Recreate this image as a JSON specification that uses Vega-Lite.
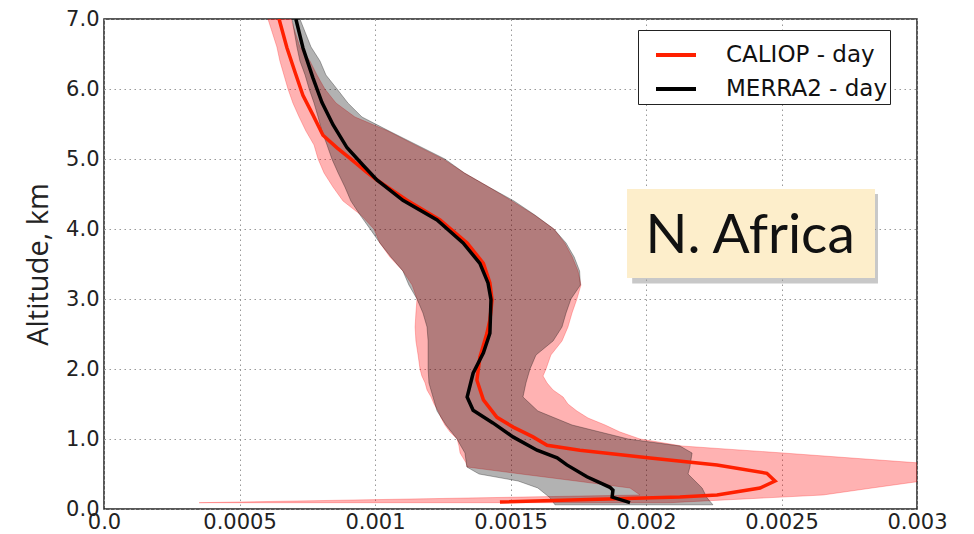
{
  "$schema": "https://vega.github.io/schema/vega-lite/v6.json",
  "width": 813,
  "height": 490,
  "autosize": {"type": "none"},
  "padding": {"left": 104, "top": 19, "right": 57, "bottom": 25},
  "background": "white",
  "config": {
    "view": {"stroke": "#222", "strokeWidth": 1.5},
    "axis": {
      "grid": true, "gridColor": "#999", "gridDash": [1.5, 3.5], "gridWidth": 1,
      "domain": false, "ticks": false,
      "labelFont": "DejaVu Sans", "labelFontSize": 21, "labelColor": "#222"
    }
  },
  "datasets": {
    "caliop_band": [
      {"alt": 7.0, "lo": 0.000605, "hi": 0.000690},
      {"alt": 6.6, "lo": 0.000638, "hi": 0.000723},
      {"alt": 6.4, "lo": 0.000649, "hi": 0.000760},
      {"alt": 6.2, "lo": 0.000664, "hi": 0.000786},
      {"alt": 6.0, "lo": 0.000679, "hi": 0.000815},
      {"alt": 5.8, "lo": 0.000697, "hi": 0.000856},
      {"alt": 5.6, "lo": 0.000720, "hi": 0.000926},
      {"alt": 5.4, "lo": 0.000745, "hi": 0.001048},
      {"alt": 5.2, "lo": 0.000775, "hi": 0.001148},
      {"alt": 5.0, "lo": 0.000790, "hi": 0.001251},
      {"alt": 4.8, "lo": 0.000812, "hi": 0.001330},
      {"alt": 4.6, "lo": 0.000845, "hi": 0.001420},
      {"alt": 4.4, "lo": 0.000882, "hi": 0.001505},
      {"alt": 4.2, "lo": 0.000948, "hi": 0.001588},
      {"alt": 4.0, "lo": 0.000996, "hi": 0.001660},
      {"alt": 3.8, "lo": 0.001018, "hi": 0.001700},
      {"alt": 3.6, "lo": 0.001055, "hi": 0.001728},
      {"alt": 3.4, "lo": 0.001103, "hi": 0.001749},
      {"alt": 3.2, "lo": 0.001137, "hi": 0.001760},
      {"alt": 3.0, "lo": 0.001155, "hi": 0.001745},
      {"alt": 2.8, "lo": 0.001151, "hi": 0.001727},
      {"alt": 2.6, "lo": 0.001148, "hi": 0.001712},
      {"alt": 2.4, "lo": 0.001151, "hi": 0.001690},
      {"alt": 2.2, "lo": 0.001159, "hi": 0.001649},
      {"alt": 2.0, "lo": 0.001166, "hi": 0.001631},
      {"alt": 1.9, "lo": 0.001173, "hi": 0.001620},
      {"alt": 1.8, "lo": 0.001185, "hi": 0.001635},
      {"alt": 1.7, "lo": 0.001192, "hi": 0.001657},
      {"alt": 1.6, "lo": 0.001207, "hi": 0.001694},
      {"alt": 1.5, "lo": 0.001218, "hi": 0.001712},
      {"alt": 1.4, "lo": 0.001233, "hi": 0.001745},
      {"alt": 1.3, "lo": 0.001244, "hi": 0.001786},
      {"alt": 1.2, "lo": 0.001258, "hi": 0.001849},
      {"alt": 1.1, "lo": 0.001277, "hi": 0.001904},
      {"alt": 1.0, "lo": 0.001303, "hi": 0.001978},
      {"alt": 0.9, "lo": 0.001310, "hi": 0.002133},
      {"alt": 0.8, "lo": 0.001314, "hi": 0.002506},
      {"alt": 0.66, "lo": 0.001336, "hi": 0.003000},
      {"alt": 0.6, "lo": 0.001340, "hi": 0.003122},
      {"alt": 0.5, "lo": 0.001539, "hi": 0.003269},
      {"alt": 0.4, "lo": 0.001742, "hi": 0.003019},
      {"alt": 0.3, "lo": 0.001941, "hi": 0.002834},
      {"alt": 0.2, "lo": 0.001978, "hi": 0.002653},
      {"alt": 0.09, "lo": 0.000351, "hi": 0.002089}
    ],
    "merra_band": [
      {"alt": 7.0, "lo": 0.000694, "hi": 0.000723},
      {"alt": 6.6, "lo": 0.000712, "hi": 0.000764},
      {"alt": 6.4, "lo": 0.000723, "hi": 0.000797},
      {"alt": 6.2, "lo": 0.000742, "hi": 0.000819},
      {"alt": 6.0, "lo": 0.000757, "hi": 0.000860},
      {"alt": 5.8, "lo": 0.000775, "hi": 0.000900},
      {"alt": 5.6, "lo": 0.000790, "hi": 0.000952},
      {"alt": 5.4, "lo": 0.000804, "hi": 0.001052},
      {"alt": 5.2, "lo": 0.000823, "hi": 0.001155},
      {"alt": 5.0, "lo": 0.000841, "hi": 0.001258},
      {"alt": 4.8, "lo": 0.000864, "hi": 0.001330},
      {"alt": 4.6, "lo": 0.000889, "hi": 0.001420},
      {"alt": 4.4, "lo": 0.000911, "hi": 0.001513},
      {"alt": 4.2, "lo": 0.000945, "hi": 0.001590},
      {"alt": 4.0, "lo": 0.000982, "hi": 0.001660},
      {"alt": 3.8, "lo": 0.001018, "hi": 0.001705},
      {"alt": 3.6, "lo": 0.001059, "hi": 0.001735},
      {"alt": 3.4, "lo": 0.001103, "hi": 0.001755},
      {"alt": 3.2, "lo": 0.001125, "hi": 0.001758},
      {"alt": 3.0, "lo": 0.001155, "hi": 0.001723},
      {"alt": 2.8, "lo": 0.001177, "hi": 0.001705},
      {"alt": 2.6, "lo": 0.001192, "hi": 0.001690},
      {"alt": 2.4, "lo": 0.001196, "hi": 0.001657},
      {"alt": 2.2, "lo": 0.001196, "hi": 0.001594},
      {"alt": 2.0, "lo": 0.001196, "hi": 0.001572},
      {"alt": 1.8, "lo": 0.001199, "hi": 0.001557},
      {"alt": 1.6, "lo": 0.001214, "hi": 0.001546},
      {"alt": 1.4, "lo": 0.001229, "hi": 0.001601},
      {"alt": 1.2, "lo": 0.001262, "hi": 0.001727},
      {"alt": 1.0, "lo": 0.001303, "hi": 0.001934},
      {"alt": 0.9, "lo": 0.001317, "hi": 0.002125},
      {"alt": 0.8, "lo": 0.001332, "hi": 0.002170},
      {"alt": 0.6, "lo": 0.001339, "hi": 0.002162},
      {"alt": 0.5, "lo": 0.001384, "hi": 0.002155},
      {"alt": 0.4, "lo": 0.001528, "hi": 0.002181},
      {"alt": 0.3, "lo": 0.001601, "hi": 0.002207},
      {"alt": 0.16, "lo": 0.001646, "hi": 0.002225},
      {"alt": 0.06, "lo": 0.001664, "hi": 0.002247}
    ],
    "lines": [
      {"series": "CALIOP - day", "alt": 7.0, "v": 0.000646},
      {"series": "CALIOP - day", "alt": 6.59, "v": 0.000675},
      {"series": "CALIOP - day", "alt": 6.24, "v": 0.000705},
      {"series": "CALIOP - day", "alt": 5.91, "v": 0.000734},
      {"series": "CALIOP - day", "alt": 5.63, "v": 0.000771},
      {"series": "CALIOP - day", "alt": 5.34, "v": 0.000808},
      {"series": "CALIOP - day", "alt": 5.16, "v": 0.000860},
      {"series": "CALIOP - day", "alt": 5.01, "v": 0.000908},
      {"series": "CALIOP - day", "alt": 4.81, "v": 0.000970},
      {"series": "CALIOP - day", "alt": 4.70, "v": 0.001007},
      {"series": "CALIOP - day", "alt": 4.41, "v": 0.001118},
      {"series": "CALIOP - day", "alt": 4.13, "v": 0.001240},
      {"series": "CALIOP - day", "alt": 3.80, "v": 0.001340},
      {"series": "CALIOP - day", "alt": 3.51, "v": 0.001400},
      {"series": "CALIOP - day", "alt": 3.23, "v": 0.001424},
      {"series": "CALIOP - day", "alt": 2.99, "v": 0.001432},
      {"series": "CALIOP - day", "alt": 2.70, "v": 0.001424},
      {"series": "CALIOP - day", "alt": 2.51, "v": 0.001413},
      {"series": "CALIOP - day", "alt": 2.17, "v": 0.001387},
      {"series": "CALIOP - day", "alt": 1.84, "v": 0.001376},
      {"series": "CALIOP - day", "alt": 1.56, "v": 0.001400},
      {"series": "CALIOP - day", "alt": 1.31, "v": 0.001450},
      {"series": "CALIOP - day", "alt": 1.17, "v": 0.001510},
      {"series": "CALIOP - day", "alt": 1.03, "v": 0.001583},
      {"series": "CALIOP - day", "alt": 0.91, "v": 0.001635},
      {"series": "CALIOP - day", "alt": 0.84, "v": 0.001756},
      {"series": "CALIOP - day", "alt": 0.73, "v": 0.002015},
      {"series": "CALIOP - day", "alt": 0.63, "v": 0.002262},
      {"series": "CALIOP - day", "alt": 0.51, "v": 0.002446},
      {"series": "CALIOP - day", "alt": 0.40, "v": 0.002476},
      {"series": "CALIOP - day", "alt": 0.30, "v": 0.002421},
      {"series": "CALIOP - day", "alt": 0.20, "v": 0.002262},
      {"series": "CALIOP - day", "alt": 0.17, "v": 0.002125},
      {"series": "CALIOP - day", "alt": 0.10, "v": 0.001461},
      {"series": "MERRA2 - day", "alt": 7.0, "v": 0.000708},
      {"series": "MERRA2 - day", "alt": 6.59, "v": 0.000734},
      {"series": "MERRA2 - day", "alt": 6.16, "v": 0.000771},
      {"series": "MERRA2 - day", "alt": 5.81, "v": 0.000804},
      {"series": "MERRA2 - day", "alt": 5.49, "v": 0.000845},
      {"series": "MERRA2 - day", "alt": 5.16, "v": 0.000897},
      {"series": "MERRA2 - day", "alt": 4.91, "v": 0.000956},
      {"series": "MERRA2 - day", "alt": 4.70, "v": 0.001007},
      {"series": "MERRA2 - day", "alt": 4.41, "v": 0.001103},
      {"series": "MERRA2 - day", "alt": 4.13, "v": 0.001229},
      {"series": "MERRA2 - day", "alt": 3.80, "v": 0.001325},
      {"series": "MERRA2 - day", "alt": 3.51, "v": 0.001387},
      {"series": "MERRA2 - day", "alt": 3.23, "v": 0.001417},
      {"series": "MERRA2 - day", "alt": 2.99, "v": 0.001428},
      {"series": "MERRA2 - day", "alt": 2.51, "v": 0.001424},
      {"series": "MERRA2 - day", "alt": 2.23, "v": 0.001400},
      {"series": "MERRA2 - day", "alt": 1.94, "v": 0.001362},
      {"series": "MERRA2 - day", "alt": 1.60, "v": 0.001340},
      {"series": "MERRA2 - day", "alt": 1.41, "v": 0.001362},
      {"series": "MERRA2 - day", "alt": 1.23, "v": 0.001435},
      {"series": "MERRA2 - day", "alt": 1.03, "v": 0.001509},
      {"series": "MERRA2 - day", "alt": 0.84, "v": 0.001598},
      {"series": "MERRA2 - day", "alt": 0.73, "v": 0.001672},
      {"series": "MERRA2 - day", "alt": 0.63, "v": 0.001708},
      {"series": "MERRA2 - day", "alt": 0.46, "v": 0.001782},
      {"series": "MERRA2 - day", "alt": 0.31, "v": 0.001867},
      {"series": "MERRA2 - day", "alt": 0.27, "v": 0.001878},
      {"series": "MERRA2 - day", "alt": 0.17, "v": 0.001875},
      {"series": "MERRA2 - day", "alt": 0.09, "v": 0.001941}
    ]
  },
  "layer": [
    {
      "data": {"name": "caliop_band"},
      "mark": {"type": "area", "orient": "horizontal", "fill": "#ff0000", "fillOpacity": 0.3, "stroke": "#ff0000", "strokeOpacity": 0.25, "strokeWidth": 1, "clip": true},
      "encoding": {
        "y": {
          "field": "alt", "type": "quantitative",
          "scale": {"domain": [0, 7], "nice": false, "zero": false},
          "axis": {
            "values": [0, 1, 2, 3, 4, 5, 6, 7], "format": ".1f", "labelPadding": 5,
            "title": "Altitude, km", "titleFont": "Open Sans", "titleFontSize": 29,
            "titleFontWeight": "normal", "titleColor": "#222", "titlePadding": 12
          }
        },
        "x": {
          "field": "lo", "type": "quantitative",
          "scale": {"domain": [0, 0.003], "nice": false, "zero": false},
          "axis": {
            "values": [0, 0.0005, 0.001, 0.0015, 0.002, 0.0025, 0.003],
            "labelExpr": "datum.value == 0 ? '0.0' : format(datum.value, '~g')",
            "labelPadding": 2, "labelFlush": false, "title": null
          }
        },
        "x2": {"field": "hi"}
      }
    },
    {
      "data": {"name": "merra_band"},
      "mark": {"type": "area", "orient": "horizontal", "fill": "#000000", "fillOpacity": 0.3, "stroke": "#000000", "strokeOpacity": 0.3, "strokeWidth": 1, "clip": true},
      "encoding": {
        "y": {"field": "alt", "type": "quantitative"},
        "x": {"field": "lo", "type": "quantitative"},
        "x2": {"field": "hi"}
      }
    },
    {
      "data": {"name": "lines"},
      "mark": {"type": "line", "strokeWidth": 3.5, "clip": true},
      "encoding": {
        "y": {"field": "alt", "type": "quantitative"},
        "x": {"field": "v", "type": "quantitative"},
        "order": {"field": "alt", "sort": "descending"},
        "color": {
          "field": "series", "type": "nominal",
          "scale": {"domain": ["CALIOP - day", "MERRA2 - day"], "range": ["#ff2000", "#000000"]},
          "legend": {
            "title": null, "orient": "none", "legendX": 534, "legendY": 11,
            "symbolType": "stroke", "symbolSize": 1600, "symbolStrokeWidth": 4, "symbolOffset": 13,
            "labelFont": "DejaVu Sans", "labelFontSize": 23, "labelColor": "#111", "labelLimit": 400,
            "labelOffset": 28, "rowPadding": -8, "padding": 3,
            "strokeColor": "#222", "fillColor": "#ffffff"
          }
        }
      }
    },
    {
      "data": {"values": [{}]},
      "mark": {"type": "rect", "fill": "#9a9a9a", "opacity": 0.55},
      "encoding": {
        "x": {"datum": 0.001949}, "x2": {"datum": 0.002856},
        "y": {"datum": 4.50}, "y2": {"datum": 3.22}
      }
    },
    {
      "data": {"values": [{}]},
      "mark": {"type": "rect", "fill": "#fdeecb"},
      "encoding": {
        "x": {"datum": 0.001930}, "x2": {"datum": 0.002845},
        "y": {"datum": 4.57}, "y2": {"datum": 3.30}
      }
    },
    {
      "data": {"values": [{}]},
      "mark": {"type": "text", "text": "N. Africa", "font": "Lato", "fontSize": 55, "align": "center", "baseline": "alphabetic", "color": "#111"},
      "encoding": {
        "x": {"datum": 0.002384},
        "y": {"datum": 3.657}
      }
    }
  ]
}
